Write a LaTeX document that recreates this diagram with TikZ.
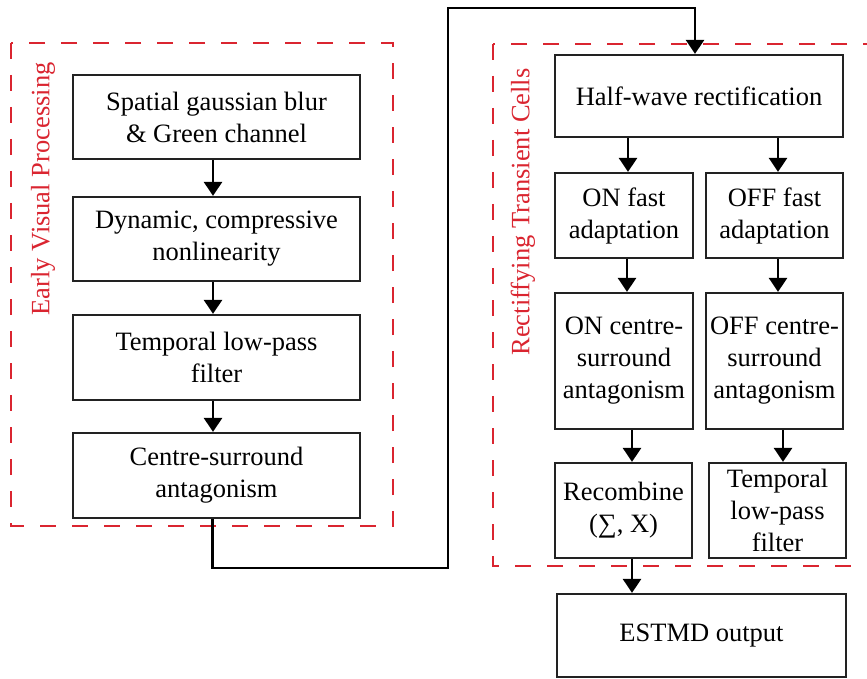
\documentclass[tikz,border=0pt]{standalone}
\usepackage{fontspec}
\setmainfont{Liberation Serif}
\usetikzlibrary{arrows.meta}
\definecolor{grpred}{RGB}{218,37,48}
\definecolor{boxline}{RGB}{34,34,34}
\begin{document}
\begin{tikzpicture}[x=1pt,y=-1pt,
  blk/.style={draw=boxline,line width=2.2pt,align=center,inner sep=0pt,
    font=\fontsize{26.5}{32}\selectfont},
  arr/.style={line width=2.5pt,-{Triangle[width=18pt,length=14pt]}},
  grp/.style={draw=grpred,line width=2.6pt,dash pattern=on 16pt off 16pt},
  grplabel/.style={text=grpred,rotate=90,font=\fontsize{26.5}{32}\selectfont,inner sep=0pt}]
\useasboundingbox (0,0) rectangle (867,679);
\clip (0,0) rectangle (867,679);
\fill[white] (0,0) rectangle (867,679);
% group frames
\draw[grp] (11,43) rectangle (393,526);
\draw[grp] (493,44) rectangle (900,566);
\node[grplabel] (lab1) at (43,189) {Early Visual Processing};
\node[grplabel] (lab2) at (523,212) {Rectiffying Transient Cells};
% left column
\node[blk,minimum width=287pt,minimum height=84pt] (b1) at (216.5,117) {Spatial gaussian blur\\\& Green channel};
\node[blk,minimum width=287pt,minimum height=84pt] (b2) at (216.5,239) {Dynamic, compressive\\nonlinearity};
\node[blk,minimum width=287pt,minimum height=85pt] (b3) at (216.5,357.5) {Temporal low-pass\\filter};
\node[blk,minimum width=287pt,minimum height=85pt] (b4) at (216.5,475.5) {Centre-surround\\antagonism};
% right column
\node[blk,minimum width=288pt,minimum height=82pt] (hw) at (699,96) {Half-wave rectification};
\node[blk,minimum width=138pt,minimum height=85pt] (on1) at (624,215.5) {ON fast\\adaptation};
\node[blk,minimum width=137pt,minimum height=85pt] (off1) at (774.5,215.5) {OFF fast\\adaptation};
\node[blk,minimum width=138pt,minimum height=136pt] (on2) at (624,361) {ON centre-\\surround\\antagonism};
\node[blk,minimum width=137pt,minimum height=136pt] (off2) at (774.5,361) {OFF centre-\\surround\\antagonism};
\node[blk,minimum width=137pt,minimum height=95pt] (rec) at (623.5,510.5) {Recombine\\(∑, X)};
\node[blk,minimum width=137pt,minimum height=95pt] (tlp) at (777.5,510.5) {Temporal\\low-pass\\filter};
\node[blk,minimum width=289pt,minimum height=83pt] (est) at (701.5,635.5) {ESTMD output};
% connectors
\draw[arr] ([xshift=-3.5pt]b1.south) -- ([xshift=-3.5pt]b2.north);
\draw[arr] ([xshift=-3.5pt]b2.south) -- ([xshift=-3.5pt]b3.north);
\draw[arr] ([xshift=-3.5pt]b3.south) -- ([xshift=-3.5pt]b4.north);
\coordinate (r1) at (448,568);
\coordinate (r2) at (448,8);
\draw[arr] ([xshift=-4pt]b4.south) |- (r1) -- (r2) -| ([xshift=-4pt]hw.north);
\draw[arr] ([xshift=4pt]on1.north |- hw.south) -- ([xshift=4pt]on1.north);
\draw[arr] ([xshift=3.5pt]off1.north |- hw.south) -- ([xshift=3.5pt]off1.north);
\draw[arr] ([xshift=3pt]on1.south) -- ([xshift=3pt]on2.north);
\draw[arr] ([xshift=3.5pt]off1.south) -- ([xshift=3.5pt]off2.north);
\draw[arr] ([xshift=8pt]on2.south) -- ([xshift=8pt]on2.south |- rec.north);
\draw[arr] ([xshift=8.5pt]off2.south) -- ([xshift=8.5pt]off2.south |- tlp.north);
\draw[arr] ([xshift=8.5pt]rec.south) -- ([xshift=8.5pt]rec.south |- est.north);
\end{tikzpicture}
\end{document}
